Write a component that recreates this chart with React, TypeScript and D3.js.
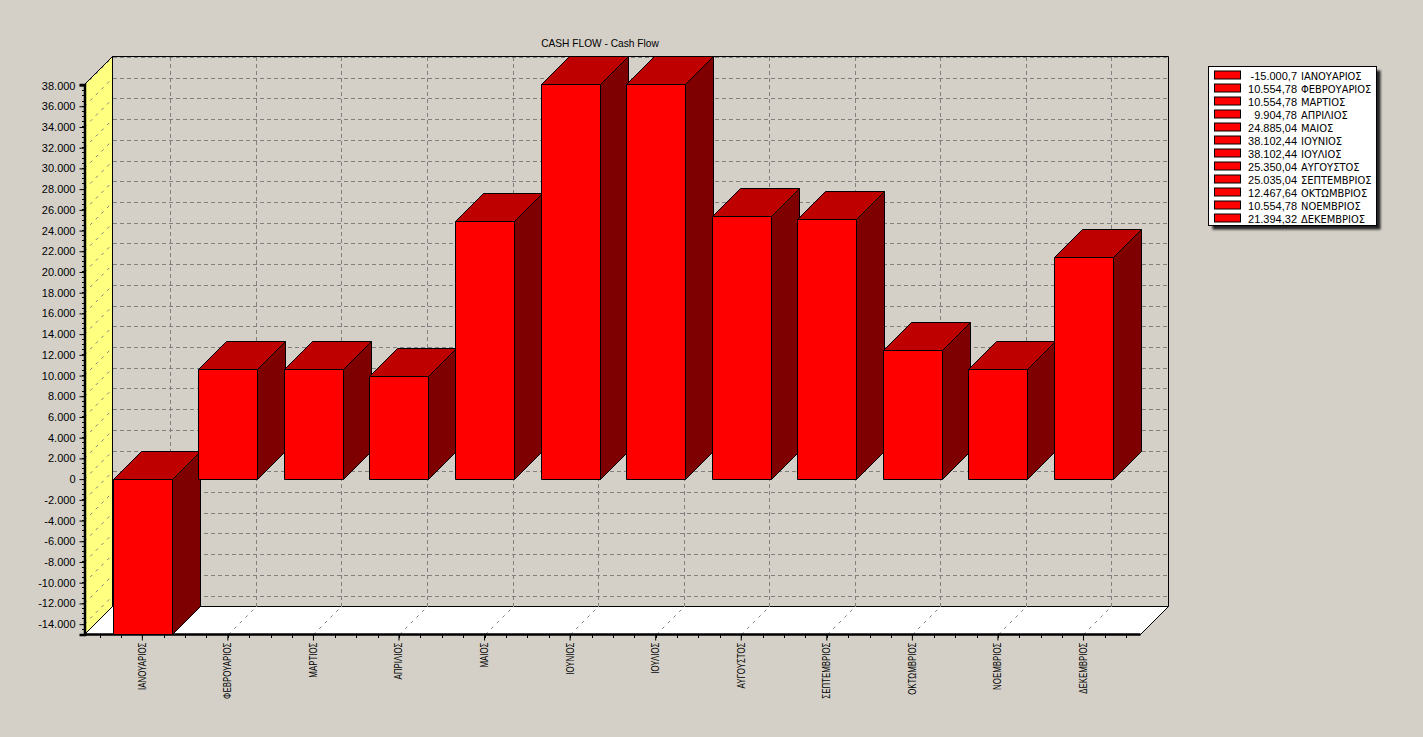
import { useEffect, useRef } from "react"
import * as d3 from "d3"

const months = [
  "ΙΑΝΟΥΑΡΙΟΣ",
  "ΦΕΒΡΟΥΑΡΙΟΣ",
  "ΜΑΡΤΙΟΣ",
  "ΑΠΡΙΛΙΟΣ",
  "ΜΑΙΟΣ",
  "ΙΟΥΝΙΟΣ",
  "ΙΟΥΛΙΟΣ",
  "ΑΥΓΟΥΣΤΟΣ",
  "ΣΕΠΤΕΜΒΡΙΟΣ",
  "ΟΚΤΩΜΒΡΙΟΣ",
  "ΝΟΕΜΒΡΙΟΣ",
  "ΔΕΚΕΜΒΡΙΟΣ",
]
const cashFlow = [
  -15000.7, 10554.78, 10554.78, 9904.78, 24885.04, 38102.44, 38102.44, 25350.04, 25035.04, 12467.64, 10554.78,
  21394.32,
]
const yTicks = d3.range(-14000, 38001, 2000)

const FONT = "'Liberation Sans', Arial, sans-serif"

export default function App() {
  const svgRef = useRef<SVGSVGElement | null>(null)

  useEffect(() => {
    if (!svgRef.current) return

    const svg = d3.select(svgRef.current)
    svg.selectAll("*").remove()

    const width = 1423
    const height = 737
    const depth = 28 // 3D offset
    const left = 84.5
    const right = 1140.5
    const top = 84.5
    const bottom = 634.5

    const x = d3
      .scaleBand<string>()
      .domain(months)
      .range([left + 0.6, right + 0.2])
      .paddingInner(0.31)
      .paddingOuter(0.3236)
    const y = d3.scaleLinear().domain([-15000, 38102.44]).range([bottom, top])
    const center = (m: string) => x(m)! + x.bandwidth() / 2

    const loc = d3.formatLocale({
      decimal: ",",
      thousands: ".",
      grouping: [3],
      currency: ["", "€"],
      minus: "-",
    })
    const fmtTick = loc.format(",.0f")
    const fmtValue = loc.format(",.2~f")

    svg.attr("width", width).attr("height", height).attr("viewBox", [0, 0, width, height])
    svg.append("rect").attr("width", width).attr("height", height).attr("fill", "#D4D0C8")

    // title
    svg
      .append("text")
      .attr("x", 600)
      .attr("y", 47)
      .attr("text-anchor", "middle")
      .attr("font-family", FONT)
      .attr("font-size", "10.2px")
      .attr("fill", "#000")
      .text("CASH FLOW - Cash Flow")

    // left wall and floor
    svg
      .append("polygon")
      .attr("points", `${left},${top} ${left + depth},${top - depth} ${left + depth},${bottom - depth} ${left},${bottom}`)
      .attr("fill", "#FFFF80")
      .attr("stroke", "#000")
    svg
      .append("polygon")
      .attr(
        "points",
        `${left},${bottom} ${left + depth},${bottom - depth} ${right + depth},${bottom - depth} ${right},${bottom}`,
      )
      .attr("fill", "#FFF")
      .attr("stroke", "#000")

    // grid, the slanted parts have a shorter dash
    const grid = svg.append("g").attr("fill", "none").attr("stroke", "#808080")
    yTicks.forEach((t) => {
      const gy = Math.floor(y(t) - depth) + 0.5
      grid
        .append("line")
        .attr("x1", left)
        .attr("y1", y(t))
        .attr("x2", left + depth)
        .attr("y2", y(t) - depth)
        .attr("stroke-dasharray", "3,5")
      grid
        .append("line")
        .attr("x1", left + depth)
        .attr("y1", gy)
        .attr("x2", right + depth)
        .attr("y2", gy)
        .attr("stroke-dasharray", "4,3")
        .attr("shape-rendering", "crispEdges")
    })
    months.forEach((m) => {
      const cx = Math.round(center(m)) + 0.5
      grid
        .append("line")
        .attr("x1", cx)
        .attr("y1", bottom)
        .attr("x2", cx + depth)
        .attr("y2", bottom - depth)
        .attr("stroke-dasharray", "3,5")
      grid
        .append("line")
        .attr("x1", cx + depth)
        .attr("y1", bottom - depth)
        .attr("x2", cx + depth)
        .attr("y2", top - depth)
        .attr("stroke-dasharray", "4,3")
        .attr("shape-rendering", "crispEdges")
    })

    // back wall edges
    svg
      .append("path")
      .attr("d", `M${left + depth},${top - depth}H${right + depth}V${bottom - depth}`)
      .attr("fill", "none")
      .attr("stroke", "#000")
    svg
      .append("path")
      .attr("d", `M${left + depth},${bottom - depth}V${top - depth}`)
      .attr("stroke", "#000")

    // minor ticks
    const minor = svg.append("g").attr("stroke", "#000").attr("shape-rendering", "crispEdges")
    d3.range(-15000, 38001, 500).forEach((t) => {
      minor.append("line").attr("x1", left - 3).attr("x2", left).attr("y1", y(t)).attr("y2", y(t))
    })
    const step = x.step() / 4
    d3.range(0, 49).forEach((i) => {
      const px = Math.round(center(months[0]) - step * 2 + i * step) + 0.5
      if (px < right) minor.append("line").attr("x1", px).attr("x2", px).attr("y1", bottom).attr("y2", bottom + 3)
    })

    // y axis
    const yAxis = svg
      .append("g")
      .attr("transform", `translate(${left},0)`)
      .call(
        d3
          .axisLeft(y)
          .tickValues(yTicks)
          .tickSize(5)
          .tickPadding(4)
          .tickFormat((d) => fmtTick(d as number)),
      )
    yAxis.selectAll("text").attr("font-family", FONT).attr("font-size", "11px").attr("fill", "#000")
    yAxis.select(".domain").attr("stroke-width", 2.5)

    // x axis
    const xAxis = svg
      .append("g")
      .attr("transform", `translate(0,${bottom})`)
      .call(d3.axisBottom(x).tickSize(6).tickPadding(2))
    xAxis.select(".domain").attr("stroke-width", 2.5).attr("d", `M${left},0H${right}`)
    xAxis
      .selectAll<SVGTextElement, string>("text")
      .attr("transform", "rotate(-90) scale(0.79,1)")
      .attr("x", -8 / 0.79)
      .attr("y", 0)
      .attr("dy", "0.35em")
      .style("text-anchor", "end")
      .attr("font-family", FONT)
      .attr("font-size", "10px")
      .attr("fill", "#000")

    // bars, left to right so each one covers the side of the previous
    months.forEach((m, i) => {
      const v = cashFlow[i]
      const x0 = Math.round(x(m)!) + 0.5
      const x1 = x0 + Math.round(x.bandwidth())
      const yTop = Math.floor(y(Math.max(v, 0))) + 0.5
      const yBot = Math.floor(y(Math.min(v, 0))) + 0.5
      const bar = svg.append("g").attr("stroke", "#000").attr("stroke-linejoin", "round")
      bar
        .append("polygon")
        .attr("points", `${x0},${yTop} ${x0 + depth},${yTop - depth} ${x1 + depth},${yTop - depth} ${x1},${yTop}`)
        .attr("fill", "#BF0000")
      bar
        .append("polygon")
        .attr("points", `${x1},${yTop} ${x1 + depth},${yTop - depth} ${x1 + depth},${yBot - depth} ${x1},${yBot}`)
        .attr("fill", "#7F0000")
      bar
        .append("rect")
        .attr("x", x0)
        .attr("y", yTop)
        .attr("width", x1 - x0)
        .attr("height", yBot - yTop)
        .attr("fill", "#FF0000")
    })

    // legend
    const legend = svg.append("g").attr("transform", "translate(1208.5,66.5)")
    legend
      .append("rect")
      .attr("x", 4)
      .attr("y", 4)
      .attr("width", 168)
      .attr("height", 159)
      .attr("fill", "#222")
      .style("filter", "blur(1px)")
    legend
      .append("rect")
      .attr("width", 168)
      .attr("height", 159)
      .attr("fill", "#FFF")
      .attr("stroke", "#000")
    months.forEach((m, i) => {
      const row = legend.append("g").attr("transform", `translate(0,${4.5 + i * 13})`)
      row.append("rect").attr("x", 6).attr("width", 26).attr("height", 8).attr("fill", "#FF0000").attr("stroke", "#000")
      row
        .append("text")
        .attr("x", 88.5)
        .attr("y", 8.5)
        .attr("text-anchor", "end")
        .attr("font-family", FONT)
        .attr("font-size", "11px")
        .text(fmtValue(cashFlow[i]))
      row
        .append("text")
        .attr("x", 92.5)
        .attr("y", 8.5)
        .attr("font-family", "'DejaVu Sans', sans-serif")
        .style("font-stretch", "condensed")
        .attr("font-size", "11px")
        .text(m)
    })
  }, [])

  return (
    <div style={{ position: "fixed", left: 0, top: 0, width: 1423, height: 737, overflow: "hidden" }}>
      <svg ref={svgRef} style={{ display: "block" }}></svg>
    </div>
  )
}
